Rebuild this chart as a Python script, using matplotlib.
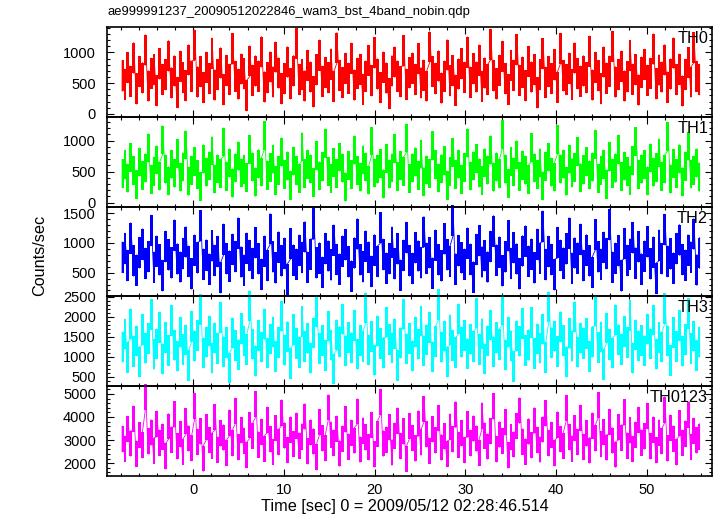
import numpy as np
import matplotlib
matplotlib.use("Agg")
import matplotlib.pyplot as plt
from matplotlib.ticker import MultipleLocator

plt.rcParams['font.family'] = ['Liberation Sans', 'DejaVu Sans']

title = "ae999991237_20090512022846_wam3_bst_4band_nobin.qdp"
names = ["TH0", "TH1", "TH2", "TH3", "TH0123"]

t_start = -8.0
t_bin = 0.32

th0 = [
    620, 480, 755, 530, 910, 410, 690, 585, 1040, 455, 660, 720, 380, 815, 560, 640, 945, 505, 700, 350,
    775, 590, 460, 880, 615, 1120, 520, 690, 430, 760, 575, 985, 470, 640, 830, 395, 705, 560, 1060, 610,
    485, 730, 655, 300, 860, 545, 700, 615, 1010, 440, 590, 765, 520, 925, 665, 410, 575, 845, 490, 700,
    1150, 560, 640, 455, 790, 600, 360, 720, 955, 530, 675, 590, 810, 445, 1075, 625, 510, 740, 580, 905,
    470, 660, 725, 400, 615, 870, 540, 995, 650, 430, 760, 585, 330, 700, 845, 615, 525, 1030, 480, 670,
    745, 560, 900, 505, 630, 455, 1090, 690, 575, 780, 420, 615, 960, 540, 705, 385, 650, 820, 595, 1005,
    515, 735, 600, 875, 450, 665, 560, 1130, 620, 490, 710, 935, 575, 400, 790, 630, 1045, 545, 680, 460,
    855, 600, 720, 345, 640, 980, 515, 690, 575, 800, 435, 1065, 620, 560, 745, 480, 910, 655, 530, 700,
    590, 1020, 470, 760, 625, 410, 845, 580, 695, 1100, 520, 640, 775, 455, 605, 950, 565, 720, 390, 680,
    805, 545, 660, 1055, 490, 715, 600, 880, 435, 650, 990, 560, 725, 375, 640, 835, 520, 1080, 610, 560,
]
th1 = [
    470, 610, 395, 730, 520, 290, 655, 440, 560, 880, 375, 505, 690, 430, 1010, 540, 350, 620, 475, 790,
    410, 575, 930, 345, 520, 660, 455, 260, 705, 490, 590, 835, 380, 545, 470, 975, 425, 640, 315, 560,
    750, 480, 535, 405, 860, 575, 330, 625, 495, 1080, 440, 565, 700, 360, 520, 815, 455, 590, 280, 670,
    515, 390, 900, 470, 615, 545, 325, 760, 430, 580, 955, 500, 385, 645, 470, 735, 555, 250, 600, 450,
    845, 520, 410, 690, 575, 365, 990, 480, 540, 630, 300, 715, 460, 560, 870, 420, 595, 505, 1040, 385,
    560, 655, 440, 780, 335, 525, 470, 920, 610, 395, 545, 680, 280, 500, 805, 455, 620, 375, 570, 960,
    430, 590, 710, 480, 355, 640, 525, 850, 410, 575, 465, 1100, 540, 310, 665, 495, 770, 420, 600, 525,
    375, 890, 560, 455, 640, 270, 585, 735, 490, 415, 1015, 540, 620, 345, 700, 480, 565, 825, 400, 530,
    660, 445, 575, 940, 385, 520, 610, 295, 740, 470, 555, 860, 420, 590, 505, 360, 675, 985, 450, 540,
    615, 350, 720, 490, 565, 800, 425, 545, 1065, 380, 630, 470, 705, 335, 585, 910, 460, 520, 640, 410,
]
th2 = [
    760, 905, 620, 1080, 700, 540, 835, 980, 655, 770, 1210, 590, 860, 715, 450, 940, 800, 665, 1130, 730,
    595, 820, 1015, 690, 480, 875, 750, 1290, 640, 795, 560, 950, 705, 855, 415, 1060, 735, 610, 890, 770,
    1165, 680, 540, 910, 790, 655, 1005, 735, 470, 860, 620, 1235, 765, 580, 930, 700, 825, 390, 985, 710,
    640, 875, 755, 1100, 590, 810, 1320, 665, 745, 505, 905, 780, 630, 1045, 720, 560, 860, 970, 685, 440,
    830, 1150, 715, 600, 945, 760, 520, 880, 690, 1255, 805, 575, 735, 1010, 650, 900, 455, 790, 1090, 700,
    570, 920, 780, 665, 1185, 740, 835, 490, 960, 715, 615, 1070, 800, 690, 1375, 560, 870, 750, 640, 995,
    725, 425, 890, 1040, 680, 785, 595, 940, 1200, 710, 845, 530, 765, 1120, 655, 920, 730, 480, 865, 1030,
    690, 810, 580, 975, 745, 1280, 635, 855, 720, 465, 1005, 790, 660, 900, 1165, 575, 830, 745, 1060, 620,
    880, 700, 505, 1135, 765, 640, 925, 820, 1310, 590, 740, 870, 445, 990, 705, 810, 1085, 660, 935, 560,
    775, 1020, 650, 845, 400, 960, 735, 1225, 690, 815, 575, 905, 1050, 720, 625, 880, 760, 1150, 545, 830,
]
th3 = [
    1240, 1560, 980, 1820, 1130, 1390, 870, 1675, 1210, 1450, 2050, 1060, 1320, 1730, 940, 1480, 1150, 1905, 1285, 1010,
    1610, 1175, 1420, 780, 1755, 1260, 1530, 2180, 1090, 1365, 1640, 960, 1470, 1205, 1980, 1120, 1350, 720, 1590, 1275,
    1045, 1700, 1390, 1180, 2270, 1310, 890, 1525, 1235, 1810, 1085, 1440, 1615, 1000, 1355, 2010, 1160, 1495, 830, 1680,
    1330, 1105, 1875, 1250, 1460, 960, 1590, 2120, 1200, 1405, 1030, 1760, 1290, 690, 1545, 1370, 1935, 1140, 1480, 1215,
    1775, 1060, 1400, 1250, 2220, 1165, 1500, 910, 1640, 1325, 1095, 1860, 1430, 1220, 1570, 780, 1340, 2060, 1190, 1455,
    1020, 1620, 1310, 1890, 1145, 1420, 1725, 990, 1380, 2300, 1235, 1510, 860, 1665, 1280, 1100, 1945, 1360, 1530, 1070,
    1435, 1250, 2090, 1180, 1570, 940, 1395, 1790, 1120, 1480, 1305, 2160, 1040, 1610, 1265, 750, 1520, 1385, 1830, 1155,
    1290, 1850, 1075, 1440, 1210, 1690, 980, 2240, 1345, 1510, 1130, 1745, 1400, 865, 1585, 1260, 1995, 1110, 1465, 1330,
    1580, 1005, 1370, 2140, 1225, 1490, 800, 1715, 1300, 1085, 1920, 1420, 1175, 1630, 1350, 2030, 960, 1545, 1270, 1405,
    1145, 1690, 1320, 1915, 1060, 1475, 1240, 2200, 1390, 900, 1605, 1255, 1780, 1135, 1425, 2080, 1200, 1510, 1030, 1360,
]
th0123 = [
    3050, 2620, 3480, 2850, 3920, 2410, 3210, 2780, 4850, 2950, 3330, 2540, 3700, 2880, 3140, 2300, 3590, 3010, 4120, 2730,
    3260, 2490, 3810, 3070, 2650, 4480, 2920, 3380, 2200, 3560, 3000, 2760, 3990, 2580, 3290, 3110, 2440, 3750, 2870, 4260,
    2690, 3430, 2970, 2350, 3640, 3180, 4550, 2800, 3350, 2620, 3880, 3040, 2480, 3520, 2910, 4190, 3200, 2570, 3450, 2830,
    3620, 2760, 3150, 4020, 2510, 3330, 2940, 2260, 3780, 3080, 2650, 4410, 3230, 2880, 3490, 2420, 3060, 3900, 2710, 3310,
    2980, 4240, 2590, 3410, 3120, 2700, 3660, 2380, 3270, 4650, 2850, 3020, 3560, 2460, 3180, 3840, 2740, 3380, 2190, 3600,
    3090, 2640, 3720, 2900, 4330, 3250, 2530, 3470, 2990, 3950, 2680, 3160, 2400, 3580, 3030, 4110, 2790, 3300, 2560, 3680,
    2870, 3500, 3070, 2450, 4060, 3190, 2720, 3390, 4470, 2600, 3240, 2960, 3770, 2340, 3130, 2810, 3610, 4280, 2930, 2500,
    3370, 2780, 3850, 3010, 2590, 3460, 4160, 2860, 3220, 2430, 3670, 3040, 2750, 4390, 3140, 2630, 3520, 2920, 3960, 2700,
    3290, 2550, 3620, 3080, 4510, 2820, 3340, 2680, 3790, 2980, 2370, 3560, 3100, 4200, 2760, 3420, 2610, 3230, 3870, 2890,
    3160, 4040, 2730, 3450, 2560, 3320, 2950, 4320, 2640, 3540, 3060, 2470, 3730, 2880, 3280, 4090, 2700, 3400, 2990, 3150,
]
# half length of the error bars per band (c/s)
errors = [250, 230, 260, 380, 560]

series = [th0, th1, th2, th3, th0123]
colors = ["#ff0000", "#00ff00", "#0000ff", "#00ffff", "#ff00ff"]
ylims = [(-50, 1410), (-66, 1380), (100, 1610), (262, 2505), (1450, 5340)]
majors = [500, 500, 500, 500, 1000]
minors = [100, 100, 100, 100, 200]

fig = plt.figure(figsize=(7.17, 5.16), dpi=100)

left = 107 / 717
width = 605 / 717
top = 1 - 27.3 / 516
h = 89.7 / 516

for i in range(5):
    ax = fig.add_axes([left, top - (i + 1) * h, width, h])
    v = np.array(series[i], dtype=float)
    t = t_start + t_bin * (np.arange(len(v)) + 0.5)
    e = errors[i]
    # each bin filled over its error range, then the bars joined as a thin spiky path
    ax.fill_between(t, v - e, v + e, step='mid', color=colors[i], lw=0, clip_on=False, zorder=2 + i)
    xs = np.repeat(t, 2)
    ys = np.column_stack([v - e, v + e]).ravel()
    ax.plot(xs, ys, color=colors[i], lw=0.6, clip_on=False, zorder=2 + i)
    ax.set_xlim(-9.5, 57.2)
    ax.set_ylim(*ylims[i])
    ax.xaxis.set_major_locator(MultipleLocator(10))
    ax.xaxis.set_minor_locator(MultipleLocator(2))
    ax.yaxis.set_major_locator(MultipleLocator(majors[i]))
    ax.yaxis.set_minor_locator(MultipleLocator(minors[i]))
    ax.tick_params(which='both', direction='in', top=True, right=True, width=0.8, colors='black')
    ax.tick_params(which='major', length=5)
    ax.tick_params(which='minor', length=2.5)
    ax.tick_params(axis='y', labelsize=10.5, pad=8)
    ax.tick_params(axis='x', labelsize=10.5, pad=5)
    if i < 4:
        ax.tick_params(axis='x', labelbottom=False)
    for s in ax.spines.values():
        s.set_linewidth(1.2)
        s.set_zorder(20)
    ax.patch.set_alpha(0)
    ax.text(0.9934, 0.955, names[i], transform=ax.transAxes, ha='right', va='top', fontsize=11.7, zorder=30)

fig.text(left, 1 - 12 / 516, title, ha='left', va='center', fontsize=9.4)
fig.text(40 / 717, 1 - 255 / 516, "Counts/sec", rotation=90, ha='center', va='center', fontsize=11.7)
fig.text(405 / 717, 1 - 507 / 516, "Time [sec] 0 = 2009/05/12 02:28:46.514", ha='center', va='center', fontsize=11.7)

fig.savefig("out.png", dpi=100)
